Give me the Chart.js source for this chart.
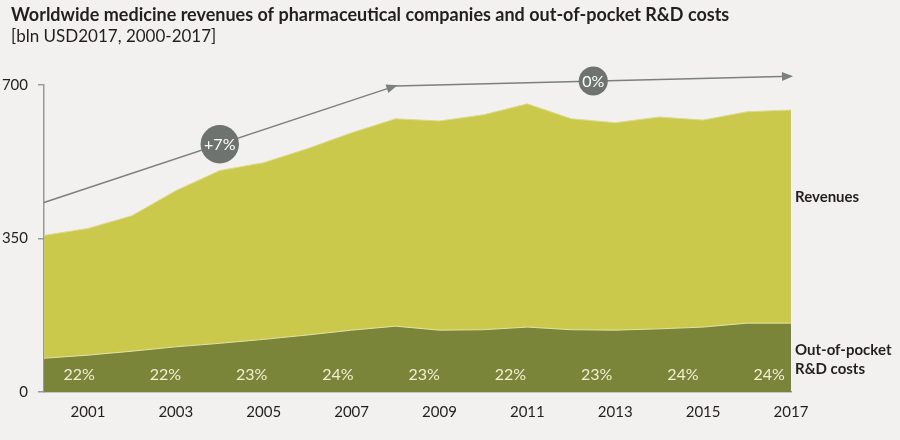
<!DOCTYPE html>
<html>
<head>
<meta charset="utf-8">
<script src="https://cdn.jsdelivr.net/npm/chart.js@4/dist/chart.umd.min.js"></script>
<style>
  html, body { margin: 0; padding: 0; background: #f2f1ef; }
  #wrap { width: 900px; height: 440px; }
</style>
</head>
<body>
<div id="wrap"><canvas id="myChart" width="900" height="440"></canvas></div>
<script>
// data (bln USD2017)
const years = ['2000','2001','2002','2003','2004','2005','2006','2007','2008',
        '2009','2010','2011','2012','2013','2014','2015','2016','2017'];
const revenues = [357, 373, 402, 459, 505, 523, 555, 591, 623, 618, 632, 657, 623, 614, 627, 620, 639, 643];
const rdCosts = [77, 84, 93, 103, 111, 120, 130, 141, 150, 141, 142, 148, 142, 141, 144, 148, 157, 157];
const trend = [432, null, null, null, null, null, null, null, 698,
        null, null, null, null, null, null, null, null, 720];
const growthLabels = ['+7%', '0%'];
const shareLabels = ['22%', '22%', '23%', '24%', '23%', '22%', '23%', '24%', '24%'];
const yTicks = [0, 350, 700];

const FONT = 'Lato, "Open Sans", sans-serif';

const decor = {
        id: 'decor',
        beforeDraw(chart) {
                const ctx = chart.ctx;
                ctx.save();
                ctx.fillStyle = '#f2f1ef';
                ctx.fillRect(0, 0, chart.width, chart.height);
                ctx.fillStyle = '#231f20';
                ctx.textBaseline = 'middle';
                ctx.textAlign = 'left';
                ctx.font = 'bold 18px ' + FONT;
                ctx.fillText('Worldwide medicine revenues of pharmaceutical companies and out-of-pocket R&D costs', 11, 15);
                ctx.font = '17px ' + FONT;
                ctx.fillText('[bln USD2017, 2000-2017]', 11, 37);
                ctx.restore();
        },
        afterDatasetsDraw(chart) {
                const ctx = chart.ctx;
                const x = chart.scales.x;
                const y = chart.scales.y;
                const pts = chart.getDatasetMeta(2).data;
                const anchors = [];
                trend.forEach((v, i) => { if (v !== null) anchors.push(pts[i]); });
                ctx.save();
                // arrow heads
                ctx.fillStyle = '#7b7f7d';
                for (let i = 1; i < anchors.length; i++) {
                        const a = anchors[i - 1], b = anchors[i];
                        const ang = Math.atan2(b.y - a.y, b.x - a.x);
                        ctx.save();
                        ctx.translate(b.x, b.y);
                        ctx.rotate(ang);
                        ctx.beginPath();
                        ctx.moveTo(2, 0);
                        ctx.lineTo(-9, -4.5);
                        ctx.lineTo(-9, 4.5);
                        ctx.closePath();
                        ctx.fill();
                        ctx.restore();
                }
                // growth bubbles
                ctx.font = '16px ' + FONT;
                ctx.textAlign = 'center';
                ctx.textBaseline = 'middle';
                for (let i = 1; i < anchors.length; i++) {
                        const a = anchors[i - 1], b = anchors[i];
                        const cx = (a.x + b.x) / 2, cy = (a.y + b.y) / 2;
                        const txt = growthLabels[i - 1];
                        const r = ctx.measureText(txt).width / 2 + 3.5;
                        ctx.fillStyle = '#6e7370';
                        ctx.beginPath();
                        ctx.arc(cx, cy, r, 0, Math.PI * 2);
                        ctx.fill();
                        ctx.fillStyle = '#ffffff';
                        ctx.fillText(txt, cx, cy + 1);
                }
                // share of R&D in revenues
                ctx.font = '16px ' + FONT;
                ctx.fillStyle = '#f1efd2';
                shareLabels.forEach((t, i) => {
                        ctx.fillText(t, x.getPixelForValue(0.8 + i * 1.963), y.getPixelForValue(39));
                });
                // series labels
                ctx.fillStyle = '#231f20';
                ctx.textAlign = 'left';
                ctx.font = 'bold 15px ' + FONT;
                ctx.fillText('Revenues', 795, 197);
                ctx.fillText('Out-of-pocket', 795, 350);
                ctx.fillText('R&D costs', 795, 369);
                ctx.restore();
        }
};

const config = {
        type: 'line',
        data: {
                labels: years,
                datasets: [{
                        label: 'Out-of-pocket R&D costs',
                        data: rdCosts,
                        fill: 'origin',
                        backgroundColor: '#7a853a',
                        borderColor: '#e3e1a6',
                        borderWidth: 1,
                        pointRadius: 0,
                        tension: 0,
                        order: 1
                }, {
                        label: 'Revenues',
                        data: revenues,
                        fill: 'origin',
                        backgroundColor: '#cbc94c',
                        borderColor: '#dcdb8a',
                        borderWidth: 1,
                        pointRadius: 0,
                        tension: 0,
                        order: 2
                }, {
                        label: 'Trend',
                        data: trend,
                        fill: false,
                        spanGaps: true,
                        borderColor: '#7b7f7d',
                        borderWidth: 1.5,
                        pointRadius: 0,
                        tension: 0,
                        clip: false,
                        order: 0
                }]
        },
        options: {
                responsive: false,
                animation: false,
                layout: { padding: { top: 85, right: 109, left: 0, bottom: 0 } },
                plugins: {
                        legend: { display: false },
                        tooltip: { enabled: false },
                        title: { display: false }
                },
                scales: {
                        x: {
                                offset: false,
                                grid: { display: false, drawTicks: false },
                                border: { display: true, color: '#9a9a98', width: 1.5 },
                                ticks: {
                                        autoSkip: false,
                                        maxRotation: 0,
                                        padding: 11,
                                        color: '#231f20',
                                        font: { family: FONT, size: 15 },
                                        callback: (v, i) => (i % 2 === 1 ? years[i] : '')
                                },
                                afterFit: s => { s.height = 48; }
                        },
                        y: {
                                min: 0,
                                max: 700,
                                afterBuildTicks: s => { s.ticks = yTicks.map(v => ({ value: v })); },
                                grid: { drawOnChartArea: false, drawTicks: true, tickLength: 6, color: '#9a9a98', lineWidth: 1.5 },
                                border: { display: true, color: '#9a9a98', width: 1.5 },
                                ticks: {
                                        padding: 10,
                                        color: '#231f20',
                                        font: { family: FONT, size: 15 }
                                },
                                afterFit: s => { s.width = 44; }
                        }
                }
        },
        plugins: [decor]
};

const myChart = new Chart(document.getElementById('myChart'), config);
</script>
</body>
</html>
